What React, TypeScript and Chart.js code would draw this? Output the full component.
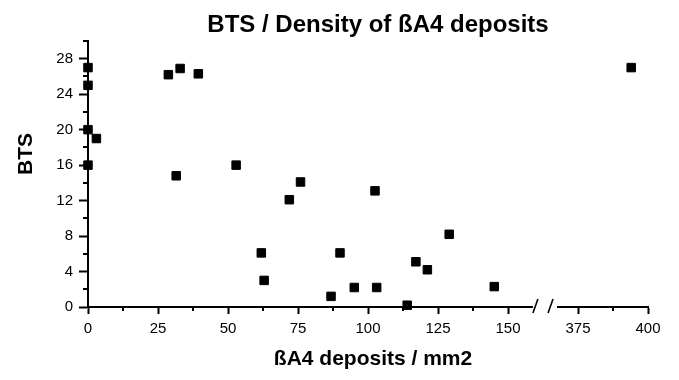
import React, { useEffect, useRef } from 'react';
import { Chart, registerables } from 'chart.js';

Chart.register(...registerables);

// ---- data ----
const depositsPerMm2 = [0, 0, 0, 0, 3, 28.7, 32.9, 39.4, 31.5, 52.9, 61.9, 62.9, 71.9, 75.9, 86.8, 90, 95.1, 102.5, 103.1, 114, 117.1, 121.2, 129, 145.1, 394];
const btsScores = [27, 25, 20, 16, 19, 26.2, 26.9, 26.3, 14.8, 16, 6.1, 3.0, 12.1, 14.1, 1.2, 6.1, 2.2, 13.1, 2.2, 0.2, 5.1, 4.2, 8.2, 2.3, 27];

const xTickValues = [0, 25, 50, 75, 100, 125, 150, 375, 400];
const xMinorValues = [12.5, 37.5, 62.5, 87.5, 112.5, 137.5, 387.5];
const yTickValues = [0, 4, 8, 12, 16, 20, 24, 28];
const yMinorValues = [2, 6, 10, 14, 18, 22, 26, 30];

const chartTitle = 'BTS / Density of ßA4 deposits';
const xAxisTitle = 'ßA4 deposits / mm2';
const yAxisTitle = 'BTS';

// broken axis: values above the break are shifted left by the removed span
const BREAK_AT = 160;
const REMOVED_SPAN = 200;
const toAxis = (v: number) => (v <= BREAK_AT ? v : v - REMOVED_SPAN);

const FONT = '"Liberation Sans", Arial, Helvetica, sans-serif';

const decorPlugin = {
  id: 'decor',
  afterDraw(chart: any) {
    const { ctx, chartArea, scales } = chart;
    const x = scales.x;
    const y = scales.y;
    ctx.save();
    ctx.strokeStyle = '#000';
    ctx.fillStyle = '#000';
    ctx.lineWidth = 2;
    // minor ticks
    for (const v of yMinorValues) {
      const py = Math.round(y.getPixelForValue(v));
      ctx.beginPath();
      ctx.moveTo(chartArea.left - 5, py);
      ctx.lineTo(chartArea.left, py);
      ctx.stroke();
    }
    for (const v of xMinorValues) {
      const px = Math.round(x.getPixelForValue(toAxis(v)));
      ctx.beginPath();
      ctx.moveTo(px, chartArea.bottom);
      ctx.lineTo(px, chartArea.bottom + 4);
      ctx.stroke();
    }
    // axis break
    const b = chartArea.bottom;
    const g1 = x.getPixelForValue(158.9);
    const g2 = x.getPixelForValue(167.5);
    ctx.fillStyle = '#fff';
    ctx.fillRect(g1, b - 2, g2 - g1, 4);
    ctx.lineWidth = 1.6;
    const s1 = x.getPixelForValue(158.9);
    const s2 = x.getPixelForValue(164.3);
    for (const s of [s1, s2]) {
      ctx.beginPath();
      ctx.moveTo(s, b + 6);
      ctx.lineTo(s + 5, b - 8);
      ctx.stroke();
    }
    // texts
    ctx.fillStyle = '#000';
    ctx.textAlign = 'center';
    ctx.textBaseline = 'alphabetic';
    ctx.font = `bold 24px ${FONT}`;
    ctx.fillText(chartTitle, 378, 32);
    ctx.font = `bold 21px ${FONT}`;
    ctx.fillText(xAxisTitle, 373, 365);
    ctx.translate(32, 154);
    ctx.rotate(-Math.PI / 2);
    ctx.fillText(yAxisTitle, 0, 0);
    ctx.restore();
  },
};

export default function App() {
  const canvasRef = useRef<HTMLCanvasElement | null>(null);

  useEffect(() => {
    document.body.style.margin = '0';
    const canvas = canvasRef.current;
    if (!canvas) return;
    const points = depositsPerMm2.map((v, i) => ({ x: toAxis(v), y: btsScores[i] }));
    const chart = new Chart(canvas, {
      type: 'scatter',
      data: {
        datasets: [
          {
            data: points,
            pointStyle: 'rect',
            pointRadius: 6,
            pointHoverRadius: 6,
            backgroundColor: '#000',
            borderColor: '#000',
            borderWidth: 1,
            clip: false as any,
          },
        ],
      },
      options: {
        responsive: false,
        animation: false,
        events: [],
        layout: { padding: { left: 0, top: 41, right: 31, bottom: 0 } },
        plugins: {
          legend: { display: false },
          title: { display: false },
          tooltip: { enabled: false },
        },
        scales: {
          x: {
            type: 'linear',
            min: 0,
            max: 200,
            afterBuildTicks: (scale: any) => {
              scale.ticks = xTickValues.map((v) => ({ value: toAxis(v) }));
            },
            afterFit: (scale: any) => {
              scale.height = 73;
            },
            grid: {
              drawOnChartArea: false,
              drawTicks: true,
              tickLength: 7,
              tickColor: '#000',
              tickWidth: 2,
            },
            border: { display: true, color: '#000', width: 2 },
            ticks: {
              autoSkip: false,
              maxRotation: 0,
              padding: 6,
              color: '#000',
              font: { family: FONT, size: 15 },
              callback: (_v: any, i: number) => String(xTickValues[i]),
            },
          },
          y: {
            type: 'linear',
            min: 0,
            max: 30,
            afterBuildTicks: (scale: any) => {
              scale.ticks = yTickValues.map((v) => ({ value: v }));
            },
            afterFit: (scale: any) => {
              scale.width = 88;
            },
            grid: {
              drawOnChartArea: false,
              drawTicks: true,
              tickLength: 9,
              tickColor: '#000',
              tickWidth: 2,
            },
            border: { display: true, color: '#000', width: 2 },
            ticks: {
              padding: 6,
              color: '#000',
              font: { family: FONT, size: 15 },
              callback: (v: any) => String(v),
            },
          },
        },
      },
      plugins: [decorPlugin],
    });
    return () => chart.destroy();
  }, []);

  return (
    <div style={{ width: 679, height: 380, background: '#fff' }}>
      <canvas ref={canvasRef} width={679} height={380} style={{ display: 'block' }} />
    </div>
  );
}
